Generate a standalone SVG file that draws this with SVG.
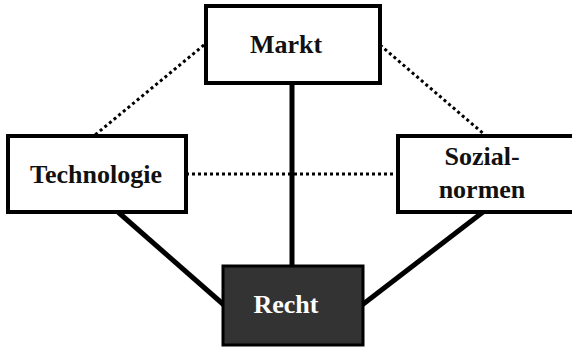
<svg xmlns="http://www.w3.org/2000/svg" width="572" height="348" viewBox="0 0 572 348">
<style>
.box{fill:#fff;stroke:#000;stroke-width:4}
.dark{fill:#333;stroke:#000;stroke-width:3}
.lbl{font-weight:bold;font-size:26px;text-anchor:middle;fill:#111}
.solid{stroke:#000;stroke-width:5;fill:none}
.dot{stroke:#000;stroke-width:3;stroke-dasharray:3 3;fill:none}
</style>
<rect width="572" height="348" fill="#fff"/>
<g id="connectors">
<line class="dot" x1="204" y1="45" x2="95" y2="135"/>
<line class="dot" x1="380" y1="45" x2="485" y2="135"/>
<line class="dot" x1="186" y1="174" x2="397" y2="174"/>
<line class="solid" x1="292" y1="83" x2="292" y2="265"/>
<line class="solid" x1="118" y1="212" x2="224" y2="305"/>
<line class="solid" x1="483" y1="212" x2="362" y2="305"/>
</g>
<g font-family="'Liberation Serif', serif">
<g id="markt">
<rect class="box" x="206" y="6" width="174" height="77"/>
<text class="lbl" x="286" y="53">Markt</text>
</g>
<g id="technologie">
<rect class="box" x="8" y="136" width="178" height="76"/>
<text class="lbl" x="96" y="183">Technologie</text>
</g>
<g id="sozialnormen">
<rect class="box" x="398" y="136" width="180" height="76"/>
<text class="lbl" x="482" y="165">Sozial-</text>
<text class="lbl" x="482" y="198">normen</text>
</g>
<g id="recht">
<rect class="dark" x="223" y="266" width="140" height="79"/>
<text class="lbl" x="286" y="313" style="fill:#fff">Recht</text>
</g>
</g>
</svg>
